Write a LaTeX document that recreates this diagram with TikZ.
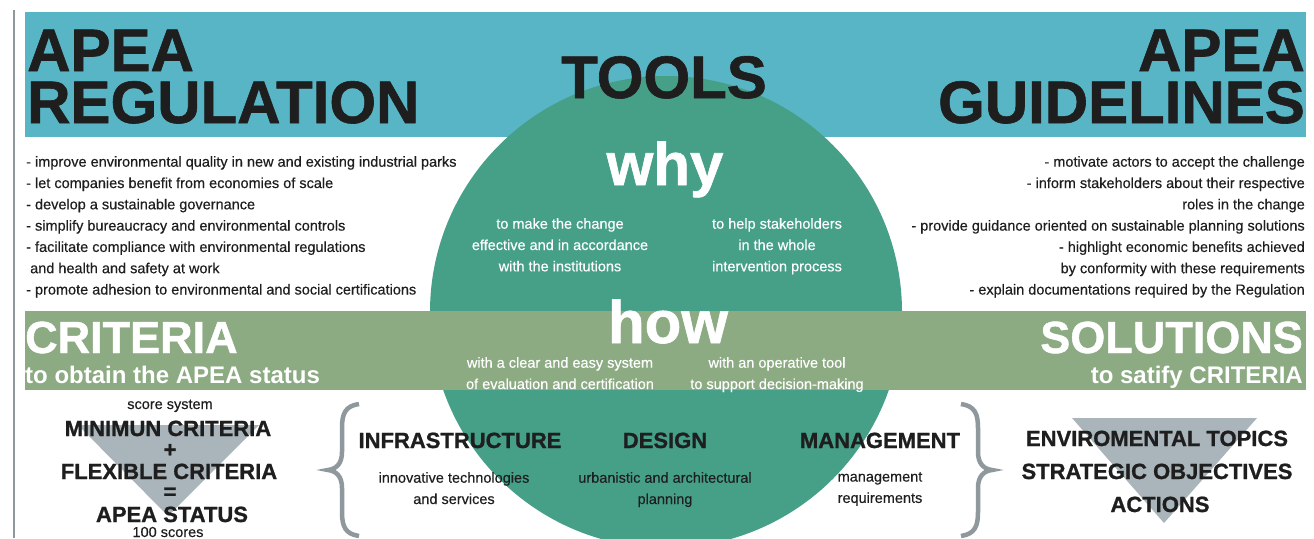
\documentclass[tikz,border=0pt]{standalone}
\usepackage{fontspec}
\setmainfont{Liberation Sans}
\newfontfamily\heavyfont[FakeBold=1]{Liberation Sans}
\newfontfamily\bodyfont[FakeBold=0.35]{Liberation Sans}
\definecolor{bandteal}{HTML}{58B5C5}
\definecolor{toolgreen}{HTML}{46A088}
\definecolor{bandolive}{HTML}{8CAB82}
\definecolor{wedgegrey}{HTML}{A9B5BB}
\definecolor{bracegrey}{HTML}{8E989D}
\definecolor{inkblack}{HTML}{1E1E1E}
\begin{document}
\begin{tikzpicture}[x=1pt, y=-1pt,
  bigtitle/.style={inner sep=0pt, text=inkblack, font=\heavyfont\bfseries\fontsize{60}{60}\selectfont},
  bandtitle/.style={inner sep=0pt, text=white, font=\heavyfont\bfseries\fontsize{45}{45}\selectfont},
  bandsub/.style={inner sep=0pt, text=white, font=\bfseries\fontsize{24}{24}\selectfont},
  toolword/.style={inner sep=0pt, text=white, font=\heavyfont\bfseries\fontsize{60}{60}\selectfont},
  heading/.style={inner sep=0pt, text=inkblack, font=\heavyfont\bfseries\fontsize{22}{22}\selectfont},
  smalltext/.style={inner sep=0pt, text=inkblack, font=\bodyfont\fontsize{14.5}{21.3}\selectfont},
  circletext/.style={inner sep=0pt, text=white, align=center, font=\bodyfont\fontsize{14.5}{21.3}\selectfont}]
\useasboundingbox (0,0) rectangle (1314,538);
\clip (0,0) rectangle (1314,538);
\fill[white] (0,0) rectangle (1314,538);
\draw[bracegrey, line width=1.2pt] (14,10) -- (14,538);
% bands and circle
\fill[bandteal] (25,12) rectangle (1306,137);
\fill[toolgreen] (666,312) circle (236pt);
\fill[bandolive] (25,311) rectangle (1306,390);
\fill[wedgegrey] (78,425) -- (259,425) -- (168,516) -- cycle;
\fill[wedgegrey] (1072,418) -- (1257,418) -- (1164,523) -- cycle;
% braces
\draw[bracegrey, line width=4.5pt] (359,404) .. controls (345,406) and (342,414) .. (342,428) -- (342,452)
  .. controls (342,464) and (336,469) .. (328,470) .. controls (336,471) and (342,476) .. (342,488)
  -- (342,512) .. controls (342,526) and (345,534) .. (359,536);
\draw[bracegrey, line width=4.5pt] (961,404) .. controls (975,406) and (978,414) .. (978,428) -- (978,452)
  .. controls (978,464) and (984,469) .. (992,470) .. controls (984,471) and (978,476) .. (978,488)
  -- (978,512) .. controls (978,526) and (975,534) .. (961,536);
% titles
\node[bigtitle, anchor=base west] (regapea) at (27,71) {APEA};
\node[bigtitle, anchor=base west] (regname) at (27,123) {REGULATION};
\node[bigtitle, anchor=base east] (guideapea) at (1305,71) {APEA};
\node[bigtitle, anchor=base east] (guidename) at (1305,123) {GUIDELINES};
\node[bigtitle, anchor=base] (tools) at (664,98) {TOOLS};
% lists
\node[smalltext, align=left, anchor=north west] (reglist) at (26,156) {- improve environmental quality in new and existing industrial parks\\
- let companies benefit from economies of scale\\
- develop a sustainable governance\\
- simplify bureaucracy and environmental controls\\
- facilitate compliance with environmental regulations\\
\hspace*{4pt}and health and safety at work\\
- promote adhesion to environmental and social certifications};
\node[smalltext, align=right, anchor=north east] (guidelist) at (1305,156) {- motivate actors to accept the challenge\\
- inform stakeholders about their respective\\
roles in the change\\
- provide guidance oriented on sustainable planning solutions\\
- highlight economic benefits achieved\\
by conformity with these requirements\\
- explain documentations required by the Regulation};
% why / how
\node[toolword, anchor=base] (why) at (665,185) {why};
\node[circletext, anchor=north] (whyleft) at (560,218) {to make the change\\effective and in accordance\\with the institutions};
\node[circletext, anchor=north] (whyright) at (777,218) {to help stakeholders\\in the whole\\intervention process};
\node[toolword, anchor=base] (how) at (668,343) {how};
\node[circletext, anchor=north] (howleft) at (560,357) {with a clear and easy system\\of evaluation and certification};
\node[circletext, anchor=north] (howright) at (777,357) {with an operative tool\\to support decision-making};
% criteria / solutions
\node[bandtitle, anchor=base west] (criteria) at (25,353) {CRITERIA};
\node[bandsub, anchor=base west] (criteriasub) at (25,383) {to obtain the APEA status};
\node[bandtitle, anchor=base east] (solutions) at (1303,353) {SOLUTIONS};
\node[bandsub, anchor=base east] (solutionssub) at (1303,383) {to satify CRITERIA};
% score system
\node[smalltext, anchor=base] (score) at (170,409) {score system};
\node[heading, anchor=base] (minimum) at (168,436) {MINIMUN CRITERIA};
\node[heading, anchor=base] (plus) at (170,457) {+};
\node[heading, anchor=base] (flexible) at (169,479) {FLEXIBLE CRITERIA};
\node[heading, anchor=base] (equals) at (170,499) {=};
\node[heading, anchor=base] (status) at (172,522) {APEA STATUS};
\node[smalltext, anchor=base] (scores) at (168,537) {100 scores};
% fields
\node[heading, anchor=base] (infra) at (460,448) {INFRASTRUCTURE};
\node[heading, anchor=base] (design) at (665,448) {DESIGN};
\node[heading, anchor=base] (mgmt) at (880,448) {MANAGEMENT};
\node[smalltext, align=center, anchor=north] (infratext) at (454,472) {innovative technologies\\and services};
\node[smalltext, align=center, anchor=north] (designtext) at (665,472) {urbanistic and architectural\\planning};
\node[smalltext, align=center, anchor=north] (mgmttext) at (880,472) {management\\requirements};
% solutions list
\node[heading, anchor=base] (topics) at (1157,446) {ENVIROMENTAL TOPICS};
\node[heading, anchor=base] (objectives) at (1157,479) {STRATEGIC OBJECTIVES};
\node[heading, anchor=base] (actions) at (1160,512) {ACTIONS};
\end{tikzpicture}
\end{document}
